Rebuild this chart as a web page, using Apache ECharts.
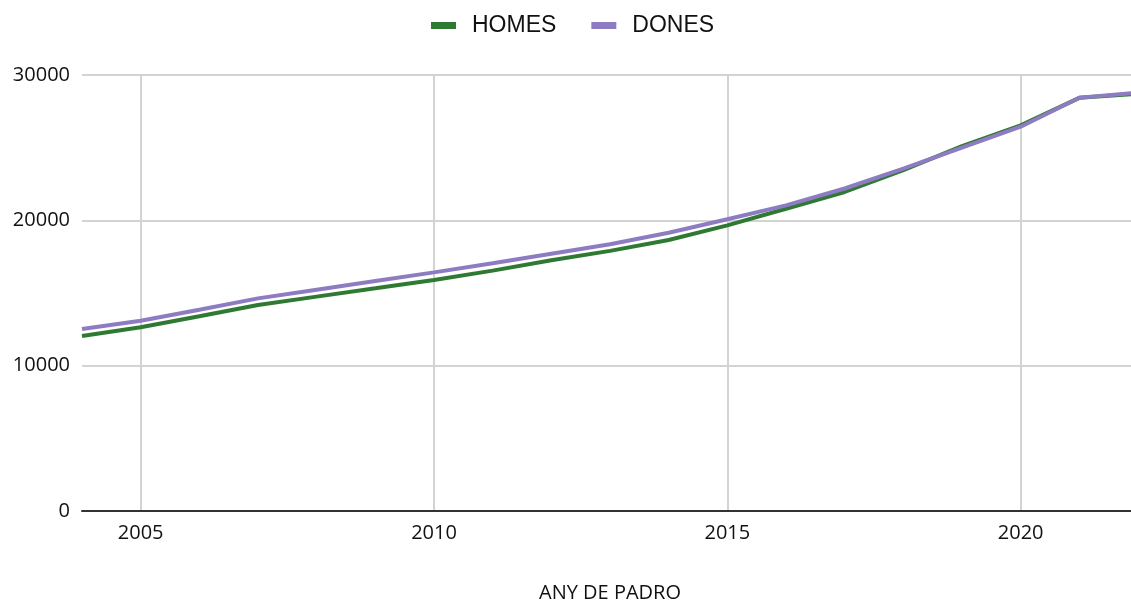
<!DOCTYPE html>
<html>
<head>
<meta charset="utf-8">
<script src="https://cdn.jsdelivr.net/npm/echarts@6/dist/echarts.min.js"></script>
<style>
  html, body { margin: 0; padding: 0; background: #fff; }
  #chart { width: 1131px; height: 603px; }
</style>
</head>
<body>
<div id="chart"></div>
<script>
// anys del padro
var years = ['2004', '2005', '2006', '2007', '2008', '2009', '2010', '2011', '2012', '2013',
             '2014', '2015', '2016', '2017', '2018', '2019', '2020', '2021', '2022'];
var homes = [12040, 12640, 13400, 14180, 14750, 15320, 15900, 16540, 17250, 17900,
             18650, 19650, 20800, 21950, 23450, 25100, 26530, 28430, 28700];
var dones = [12520, 13090, 13850, 14630, 15230, 15830, 16420, 17050, 17700, 18350,
             19150, 20070, 21030, 22190, 23560, 25010, 26440, 28430, 28790];
var yTicks = [0, 10000, 20000, 30000];

var myChart = echarts.init(document.getElementById('chart'));

function every5(index, value) {
    return parseInt(value) % 5 === 0;   // nomes 2005, 2010, 2015, 2020
}

var option = {
    animation: false,
    legend: {
        top: 9,
        left: 426,
        icon: 'rect',
        itemWidth: 25,
        itemHeight: 7,
        itemGap: 35,
        textStyle: {
            fontFamily: 'Liberation Sans',
            fontSize: 23,
            color: '#111',
            padding: [0, 0, 0, 11]
        },
        data: ['HOMES', 'DONES']
    },
    grid: {
        left: 82,
        top: 75,
        width: 1056,
        bottom: 92,
        outerBoundsMode: 'none'
    },
    xAxis: {
        type: 'category',
        data: years,
        boundaryGap: false,
        name: 'ANY DE PADRO',
        nameLocation: 'middle',
        nameGap: 72,
        nameTextStyle: { fontFamily: 'Open Sans', fontSize: 20, color: '#111' },
        axisLine: { lineStyle: { color: '#333', width: 2 } },
        axisTick: { show: false },
        axisLabel: {
            interval: every5,
            margin: 12,
            fontFamily: 'Open Sans',
            fontSize: 20,
            color: '#111'
        },
        splitLine: {
            show: true,
            interval: every5,
            lineStyle: { color: '#d3d3d3', width: 2 }
        }
    },
    yAxis: {
        type: 'value',
        min: yTicks[0],
        max: yTicks[yTicks.length - 1],
        interval: 10000,
        axisLine: { show: false },
        axisTick: { show: false },
        axisLabel: {
            margin: 12,
            fontFamily: 'Open Sans',
            fontSize: 20,
            color: '#111',
            formatter: function (v) { return String(v); }
        },
        splitLine: { lineStyle: { color: '#d3d3d3', width: 2 } }
    },
    series: [
        {
            name: 'HOMES',
            type: 'line',
            data: homes,
            symbol: 'none',
            color: '#2e7a33',
            lineStyle: { width: 4 }
        },
        {
            name: 'DONES',
            type: 'line',
            data: dones,
            symbol: 'none',
            color: '#8e7cc3',
            lineStyle: { width: 4 }
        }
    ]
};

myChart.setOption(option);
</script>
</body>
</html>
